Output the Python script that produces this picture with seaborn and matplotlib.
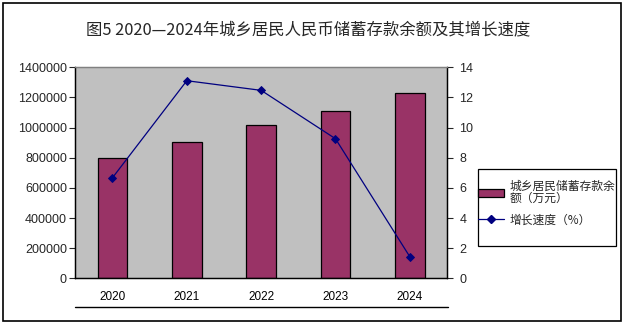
import matplotlib
matplotlib.use("Agg")
import matplotlib.pyplot as plt
from matplotlib.lines import Line2D
from matplotlib.patches import Rectangle, Patch
from matplotlib.ticker import StrMethodFormatter, FixedLocator
import seaborn as sns
import pandas as pd

# Data
years = ["2020", "2021", "2022", "2023", "2024"]
savings = [796000, 902000, 1015000, 1108000, 1227500]   # 万元
growth = [6.67, 13.11, 12.47, 9.26, 1.43]               # %

title = "图5 2020—2024年城乡居民人民币储蓄存款余额及其增长速度"
bar_label = "城乡居民储蓄存款余\n额（万元）"
line_label = "增长速度（%）"

bar_color = "#993366"
line_color = "#000080"
cjk = ["Noto Sans CJK SC", "DejaVu Sans"]
latin = ["Liberation Sans", "DejaVu Sans"]

sns.set_style("white")
plt.rcParams["font.family"] = latin

df = pd.DataFrame({"year": years, "savings": savings, "growth": growth})

W, H = 625, 326
fig = plt.figure(figsize=(W / 100, H / 100), dpi=100)
ax = fig.add_axes([75.3 / W, 1 - 278.3 / H, (447 - 75.3) / W, (278.3 - 67.3) / H])
ax.set_facecolor("#C0C0C0")

sns.barplot(data=df, x="year", y="savings", ax=ax, color=bar_color, saturation=1,
            width=0.4, edgecolor="black", linewidth=0.9, errorbar=None, zorder=2)

ax2 = ax.twinx()
sns.pointplot(data=df, x="year", y="growth", ax=ax2, color=line_color, markers="D",
              markersize=4.5, linewidth=0.9, errorbar=None)

for a in (ax, ax2):
    a.set_xlim(-0.5, len(years) - 0.5)
    a.set_xlabel("")
    a.set_ylabel("")
    a.grid(False)

ax.set_ylim(0, 1400000)
ax.set_yticks(range(0, 1400001, 200000))
ax.yaxis.set_major_formatter(StrMethodFormatter("{x:.0f}"))
ax2.set_ylim(0, 14)
ax2.set_yticks(range(0, 15, 2))

# category boundary ticks on x axis, labels centred without ticks
ax.xaxis.set_minor_locator(FixedLocator([i + 0.5 for i in range(len(years) - 1)]))
ax.tick_params(axis="x", which="major", length=0, pad=9, labelsize=8.5, colors="black")
ax.tick_params(axis="x", which="minor", direction="in", length=3, width=0.8, color="black")
ax.tick_params(axis="y", direction="out", length=4, width=0.8, labelsize=9, pad=2, left=True)
ax2.tick_params(axis="y", direction="out", length=4, width=0.8, labelsize=9, pad=5, right=True)
ax2.tick_params(axis="x", length=0, labelbottom=False)

for a in (ax, ax2):
    for side in ("left", "bottom", "right"):
        a.spines[side].set_color("black")
        a.spines[side].set_linewidth(0.9)
        a.spines[side].set_visible(True)
    a.spines["top"].set_color("#808080")
    a.spines["top"].set_linewidth(0.9)
    a.spines["top"].set_visible(True)

# title
fig.text(308.5 / W, 1 - 30 / H, title, ha="center", va="center",
         fontsize=11.8, family=cjk)

# legend: entries without frame, box drawn separately
handles = [
    Patch(facecolor=bar_color, edgecolor="black", linewidth=0.9),
    Line2D([], [], color=line_color, marker="D", markersize=4.5, linewidth=0.9),
]
leg = fig.legend(handles, [bar_label, line_label], loc="upper left",
                 bbox_to_anchor=(478.5 / W, 1 - 180 / H),
                 prop={"family": cjk, "size": 8.5}, frameon=False,
                 borderpad=0, handlelength=2.2, handleheight=0.6,
                 handletextpad=0.4, labelspacing=0.75, borderaxespad=0)
for t in leg.get_texts():
    t.set_linespacing(0.85)
fig.add_artist(Rectangle((478.5 / W, 1 - 246 / H), (616 - 478.5) / W, (246 - 169) / H,
                         fill=False, edgecolor="black", linewidth=0.9,
                         transform=fig.transFigure))

# rule under the category labels
fig.add_artist(Line2D([75.3 / W, 447.5 / W], [1 - 307.3 / H, 1 - 307.3 / H],
                      color="black", linewidth=1.0, transform=fig.transFigure))

# outer frame
fig.add_artist(Rectangle((3 / W, 1 - 321 / H), 618 / W, 318 / H,
                         fill=False, edgecolor="black", linewidth=1.2,
                         transform=fig.transFigure))

fig.savefig("out.png", dpi=100)
